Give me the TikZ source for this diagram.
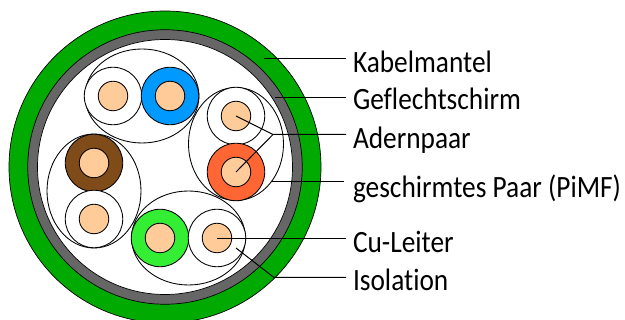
\documentclass[tikz,border=0pt]{standalone}
\usepackage{fontspec}
\setmainfont[FakeStretch=0.882,Ligatures=NoCommon]{Carlito}
\usetikzlibrary{shapes.geometric}
\definecolor{coppercol}{HTML}{FFCC99}
\definecolor{jacket}{HTML}{00AA00}
\definecolor{shield}{HTML}{666666}
\definecolor{bluew}{HTML}{0099FF}
\definecolor{orangew}{HTML}{FF6633}
\definecolor{brownw}{HTML}{7F4C19}
\definecolor{greenw}{HTML}{33EE33}
\tikzset{
  sheath/.style={circle,draw=black,line width=0.7pt,inner sep=0pt,outer sep=0pt,minimum size=#1*1pt},
  pairring/.style={ellipse,draw=black,line width=0.85pt,inner sep=0pt,outer sep=0pt},
  wire/.style={circle,draw=black,line width=0.85pt,inner sep=0pt,outer sep=0pt,minimum size=57.5pt,fill=#1},
  copper/.style={circle,draw=black,line width=0.85pt,inner sep=0pt,outer sep=0pt,minimum size=29.5pt,fill=coppercol},
  leader/.style={draw=black,line width=1pt},
  lab/.style={anchor=base west,inner xsep=7pt,inner ysep=0pt,outer sep=0pt,font=\fontsize{31}{36}\selectfont}
}
\begin{document}
\begin{tikzpicture}[x=1pt,y=-1pt]
\useasboundingbox (0,0) rectangle (625,320);
\begin{scope}
\clip (0,0) rectangle (625,320);
\node[sheath=312,fill=jacket] (jk) at (165,167) {};
\node[sheath=274.5,fill=shield] (sh) at (165,167) {};
\node[sheath=255,fill=white] (core) at (165,167) {};
\end{scope}
% pair screens
\node[pairring,minimum width=114pt,minimum height=94pt] (p1) at (142,96) {};
\node[pairring,minimum width=95pt,minimum height=113pt] (p2) at (236,144) {};
\node[pairring,minimum width=94pt,minimum height=114pt] (p3) at (94,191) {};
\node[pairring,minimum width=114pt,minimum height=94pt] (p4) at (188.5,238) {};
% wires
\node[wire=white] (w1a) at (113,96) {};
\node[copper] (c1a) at (113,96) {};
\node[wire=bluew] (w1b) at (170,96) {};
\node[copper] (c1b) at (170,96) {};
\node[wire=white] (w2a) at (236,116) {};
\node[copper] (c2a) at (236,116) {};
\node[wire=orangew] (w2b) at (236,172) {};
\node[copper] (c2b) at (236,172) {};
\node[wire=brownw] (w3a) at (94,163) {};
\node[copper] (c3a) at (94,163) {};
\node[wire=white] (w3b) at (94,219) {};
\node[copper] (c3b) at (94,219) {};
\node[wire=greenw] (w4a) at (160,238) {};
\node[copper] (c4a) at (160,238) {};
\node[wire=white] (w4b) at (217,238) {};
\node[copper] (c4b) at (217,238) {};
% labels
\node[lab] (l1) at (346,72.3) {Kabelmantel};
\node[lab] (l2) at (346,109.3) {Geflechtschirm};
\node[lab] (l3) at (346,148.3) {Adernpaar};
\node[lab] (l4) at (346,197.3) {geschirmtes Paar (PiMF)};
\node[lab] (l5) at (346,252.3) {Cu-Leiter};
\node[lab] (l6) at (346,290.3) {Isolation};
% leaders
\coordinate (k1) at (264,58.5);
\coordinate (k2) at (275,97.5);
\coordinate (k3) at (273,134.5);
\coordinate (k4) at (272,181.5);
\coordinate (k4e) at (344,181.5);
\coordinate (k5) at (217,238.5);
\coordinate (k6) at (274,277.5);
\coordinate (k6s) at (236,248);
\draw[leader] (k1) -- (k1 -| l1.west);
\draw[leader] (k2) -- (k2 -| l2.west);
\draw[leader] (k3 -| l3.west) -- (k3) -- (c2a.center);
\draw[leader] (k3) -- (c2b.center);
\draw[leader] (k4) -- (k4e);
\draw[leader] (k5) -- (k5 -| l5.west);
\draw[leader] (k6s) -- (k6) -- (k6 -| l6.west);
\end{tikzpicture}
\end{document}
